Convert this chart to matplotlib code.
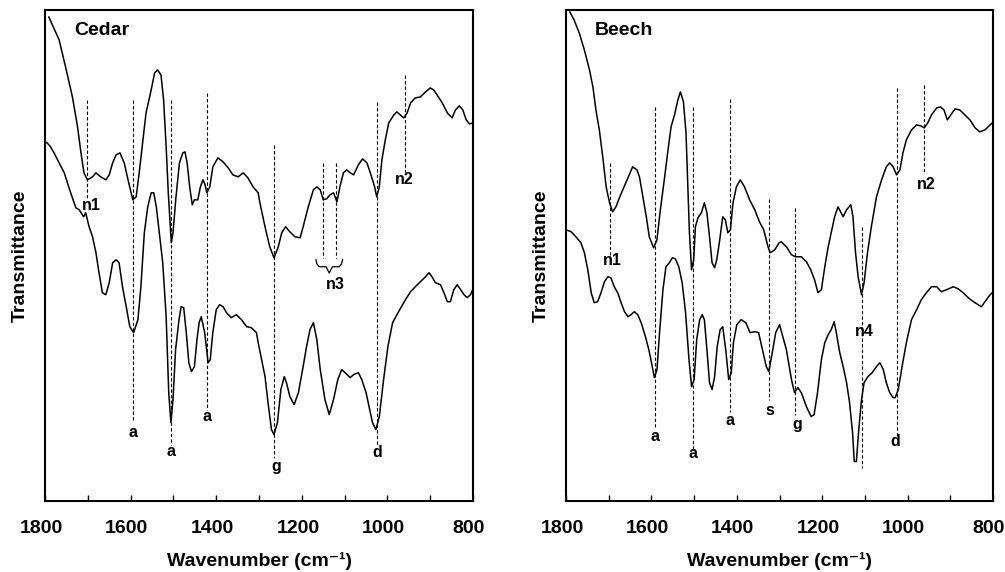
import matplotlib
matplotlib.use("Agg")
import matplotlib.pyplot as plt
import matplotlib.transforms as mtransforms
from matplotlib.ticker import MultipleLocator

plt.rcParams['font.family'] = ['Liberation Sans', 'DejaVu Sans']
plt.rcParams['font.weight'] = 'bold'

# ---- Cedar spectra (wavenumber, transmittance in arbitrary units) ----
cedar_top_wn = [1791, 1767, 1752, 1736, 1724, 1716, 1709, 1701, 1689, 1681, 1670, 1658, 1650, 1642,
                1634, 1625, 1615, 1605, 1595, 1587, 1580, 1572, 1564, 1552, 1544, 1537, 1529, 1523,
                1517, 1512, 1505, 1501, 1494, 1486, 1478, 1473, 1468, 1462, 1456, 1451, 1443, 1437,
                1431, 1426, 1422, 1415, 1408, 1396, 1384, 1372, 1361, 1349, 1337, 1326, 1314, 1302,
                1298, 1286, 1275, 1265, 1255, 1247, 1238, 1228, 1216, 1204, 1197, 1185, 1173, 1165,
                1157, 1150, 1142, 1134, 1126, 1118, 1111, 1103, 1095, 1087, 1079, 1068, 1058, 1048,
                1040, 1030, 1025, 1019, 1013, 1005, 997, 985, 978, 970, 962, 954, 946, 935, 923, 911,
                900, 892, 884, 872, 860, 849, 841, 832, 824, 816, 808, 800]
cedar_top_t = [484, 461, 434, 404, 374, 348, 328, 321, 324, 328, 324, 321, 326, 338,
               346, 348, 338, 319, 301, 304, 328, 358, 388, 411, 428, 431, 426, 401,
               354, 308, 258, 268, 304, 338, 348, 349, 338, 314, 296, 301, 301, 314,
               321, 316, 308, 314, 334, 343, 339, 333, 326, 324, 328, 323, 314, 308,
               298, 274, 254, 243, 254, 268, 274, 269, 264, 263, 274, 294, 311, 314,
               311, 301, 302, 306, 308, 299, 314, 328, 331, 328, 326, 336, 342, 338,
               328, 314, 304, 314, 341, 361, 378, 386, 389, 386, 383, 388, 398, 403, 404, 409,
               413, 411, 406, 398, 388, 383, 391, 395, 391, 381, 377, 378]

cedar_bot_wn = [1802, 1795, 1787, 1779, 1767, 1755, 1744, 1736, 1728, 1720, 1710, 1705, 1697, 1689,
                1681, 1675, 1666, 1658, 1650, 1642, 1634, 1627, 1619, 1609, 1602, 1593, 1583, 1576,
                1568, 1560, 1552, 1546, 1540, 1533, 1525, 1517, 1511, 1506, 1501, 1495, 1487, 1482,
                1476, 1470, 1464, 1458, 1451, 1445, 1440, 1435, 1427, 1419, 1414, 1408, 1400, 1392,
                1384, 1376, 1365, 1353, 1341, 1329, 1318, 1306, 1302, 1294, 1286, 1279, 1271, 1265,
                1257, 1249, 1241, 1236, 1228, 1218, 1208, 1197, 1189, 1181, 1173, 1165, 1157, 1146,
                1136, 1126, 1116, 1107, 1099, 1087, 1079, 1068, 1060, 1050, 1043, 1035, 1027, 1019,
                1009, 999, 988, 974, 958, 946, 935, 923, 911, 903, 896, 888, 876, 868, 860, 853,
                845, 837, 829, 821, 814, 806, 798]
cedar_bot_t = [359, 358, 354, 348, 338, 328, 313, 303, 293, 291, 284, 288, 274, 264,
               248, 231, 208, 206, 218, 238, 241, 238, 214, 191, 174, 168, 181, 214,
               268, 294, 308, 308, 294, 268, 238, 184, 108, 78, 101, 151, 181, 194,
               193, 168, 138, 129, 134, 161, 178, 184, 168, 138, 141, 168, 191, 196,
               194, 188, 183, 186, 181, 174, 173, 168, 158, 141, 124, 98, 71, 66,
               78, 111, 124, 118, 104, 96, 108, 134, 154, 171, 178, 161, 131, 101,
               86, 101, 121, 131, 128, 123, 126, 128, 121, 108, 94, 78, 71, 84,
               121, 154, 178, 189, 201, 209, 214, 219, 224, 228, 224, 218, 216, 208, 199, 199,
               211, 216, 211, 206, 203, 206, 214]

# ---- Beech spectra ----
beech_top_wn = [1791, 1781, 1769, 1757, 1745, 1737, 1730, 1722, 1714, 1706, 1698, 1691, 1683, 1675,
                1667, 1659, 1652, 1644, 1634, 1628, 1620, 1612, 1605, 1595, 1587, 1580, 1569, 1562,
                1554, 1546, 1538, 1532, 1525, 1519, 1515, 1511, 1506, 1501, 1497, 1491, 1483, 1476,
                1470, 1464, 1458, 1452, 1447, 1440, 1433, 1427, 1421, 1415, 1409, 1401, 1392, 1382,
                1370, 1358, 1347, 1337, 1327, 1322, 1311, 1301, 1296, 1284, 1272, 1263, 1249, 1237,
                1227, 1218, 1210, 1202, 1194, 1186, 1179, 1171, 1163, 1151, 1143, 1133, 1128, 1122,
                1116, 1108, 1102, 1094, 1085, 1073, 1061, 1050, 1042, 1034, 1026, 1018, 1011, 1003,
                991, 979, 969, 961, 953, 944, 932, 923, 915, 907, 899, 889, 878, 866, 854, 842,
                831, 819, 807, 799]
beech_top_t = [489, 481, 468, 451, 431, 414, 391, 371, 344, 314, 298, 289, 294, 303,
               311, 319, 326, 334, 331, 324, 304, 284, 264, 253, 261, 288, 324, 348,
               374, 386, 401, 409, 399, 368, 318, 268, 231, 241, 274, 283, 288, 298,
               288, 264, 238, 233, 241, 261, 284, 281, 268, 271, 298, 314, 321, 314,
               301, 291, 279, 271, 254, 248, 251, 258, 259, 254, 246, 244, 244, 239,
               231, 221, 208, 211, 234, 254, 268, 284, 294, 284, 291, 296, 284, 248,
               224, 206, 218, 248, 274, 304, 321, 334, 338, 334, 326, 331, 348, 361,
               371, 376, 375, 373, 378, 386, 393, 394, 391, 381, 386, 392, 391, 386, 381, 373,
               369, 371, 376, 379]

beech_bot_wn = [1800, 1788, 1777, 1765, 1757, 1749, 1741, 1734, 1726, 1718, 1710, 1702, 1695, 1687,
                1679, 1671, 1663, 1655, 1648, 1640, 1632, 1624, 1614, 1606, 1598, 1593, 1587, 1581,
                1573, 1566, 1558, 1551, 1544, 1536, 1528, 1520, 1512, 1506, 1500, 1494, 1487, 1481,
                1476, 1470, 1464, 1458, 1452, 1446, 1439, 1433, 1426, 1419, 1413, 1408, 1400, 1390,
                1379, 1369, 1358, 1349, 1340, 1331, 1325, 1317, 1309, 1300, 1284, 1272, 1265, 1257,
                1249, 1237, 1226, 1219, 1211, 1202, 1194, 1186, 1179, 1172, 1167, 1159, 1151, 1143,
                1136, 1129, 1125, 1120, 1115, 1108, 1102, 1093, 1083, 1073, 1065, 1057, 1050, 1042,
                1034, 1029, 1022, 1013, 1003, 991, 979, 968, 956, 944, 932, 921, 909, 893, 882, 870,
                858, 846, 835, 827, 819, 807, 799]
beech_bot_t = [271, 269, 264, 258, 248, 231, 208, 198, 199, 208, 219, 224, 223, 214,
               208, 198, 189, 184, 186, 189, 186, 178, 164, 151, 134, 123, 131, 168,
               211, 234, 238, 243, 242, 234, 218, 188, 141, 114, 121, 161, 181, 186,
               181, 151, 118, 111, 124, 154, 171, 174, 151, 121, 128, 158, 176, 181,
               178, 168, 169, 168, 151, 134, 129, 148, 168, 176, 151, 121, 108, 113,
               108, 94, 84, 86, 108, 141, 158, 166, 171, 179, 168, 148, 134, 118,
               98, 68, 39, 39, 68, 101, 118, 124, 128, 134, 138, 131, 118, 108,
               103, 103, 111, 134, 158, 181, 191, 201, 208, 214, 214, 209, 211, 214, 212, 208,
               203, 199, 196, 194, 199, 206, 209]

# ---- band markers: dashed line position, top and bottom; labels ----
cedar_mark_wn = [1702, 1595, 1505, 1422, 1265, 1150, 1121, 1025, 960]
cedar_mark_top = [401, 401, 401, 408, 356, 338, 338, 399, 426]
cedar_mark_bot = [301, 79, 56, 91, 43, 243, 243, 56, 329]
cedar_labels = ['n1', 'a', 'a', 'a', 'g', 'n3', 'd', 'n2']
cedar_label_wn = [1693, 1594, 1505, 1422, 1259, 1122, 1024, 960]
cedar_label_t = [295, 68, 49, 84, 34, 216, 48, 321]
cedar_brace = (1167, 1105, 241)   # left, right, height of brace under n3

beech_mark_wn = [1696, 1591, 1503, 1417, 1325, 1263, 1107, 1025, 961]
beech_mark_top = [338, 394, 394, 402, 302, 293, 274, 413, 416]
beech_mark_bot = [246, 74, 51, 89, 101, 86, 33, 64, 328]
beech_labels = ['n1', 'a', 'a', 'a', 's', 'g', 'n4', 'd', 'n2']
beech_label_wn = [1692, 1591, 1503, 1417, 1322, 1258, 1102, 1028, 956]
beech_label_t = [240, 64, 47, 80, 90, 76, 169, 59, 316]


def draw_brace(ax, x0, x1, y, depth=7):
    xm = (x0 + x1) / 2
    d = abs(x1 - x0) * 0.12
    xs = [x0, x0 - d * 0.3, x0 - d, xm + d, xm, xm - d, x1 + d, x1 + d * 0.3, x1]
    ys = [y, y - depth * 0.6, y - depth, y - depth, y - depth * 1.9, y - depth, y - depth,
          y - depth * 0.6, y]
    ax.plot(xs, ys, color='black', lw=0.9)


def draw_panel(ax, title, top, bot, marks, labels):
    ax.plot(top[0], top[1], color='black', lw=1.1)
    ax.plot(bot[0], bot[1], color='black', lw=1.1)
    for wn, y0, y1 in zip(*marks):
        ax.plot([wn, wn], [y0, y1], color='black', lw=0.8, ls=(0, (3, 2)))
    for txt, wn, y in zip(*labels):
        ax.text(wn, y, txt, ha='center', va='center', fontsize=11.5, fontweight='bold')
    ax.text(1732, 470, title, ha='left', va='center', fontsize=14, fontweight='bold')

    ax.set_xlim(1800, 800)
    ax.set_ylim(0, 491)
    ax.xaxis.set_major_locator(MultipleLocator(200))
    ax.xaxis.set_minor_locator(MultipleLocator(100))
    ax.tick_params(axis='x', which='both', direction='in', length=4, width=1, pad=14,
                   labelsize=14)
    ax.set_yticks([])
    for s in ax.spines.values():
        s.set_linewidth(1.5)
    ax.set_xlabel('Wavenumber (cm\u207b\u00b9)', fontsize=14, fontweight='bold', labelpad=11)
    ax.set_ylabel('Transmittance', fontsize=14, fontweight='bold', labelpad=12)

    # tick labels in the original sit a few pixels left of their ticks
    shift = mtransforms.ScaledTranslation(-4 / 100, 0, ax.figure.dpi_scale_trans)
    for lab in ax.get_xticklabels():
        lab.set_transform(lab.get_transform() + shift)


fig = plt.figure(figsize=(10.05, 5.72), dpi=100)
ax1 = fig.add_axes([0.0448, 0.125, 0.4259, 0.8575])
ax2 = fig.add_axes([0.5632, 0.125, 0.4249, 0.8575])

draw_panel(ax1, 'Cedar', (cedar_top_wn, cedar_top_t), (cedar_bot_wn, cedar_bot_t),
           (cedar_mark_wn, cedar_mark_top, cedar_mark_bot),
           (cedar_labels, cedar_label_wn, cedar_label_t))
draw_brace(ax1, *cedar_brace)

draw_panel(ax2, 'Beech', (beech_top_wn, beech_top_t), (beech_bot_wn, beech_bot_t),
           (beech_mark_wn, beech_mark_top, beech_mark_bot),
           (beech_labels, beech_label_wn, beech_label_t))

fig.savefig('out.png', dpi=100)
